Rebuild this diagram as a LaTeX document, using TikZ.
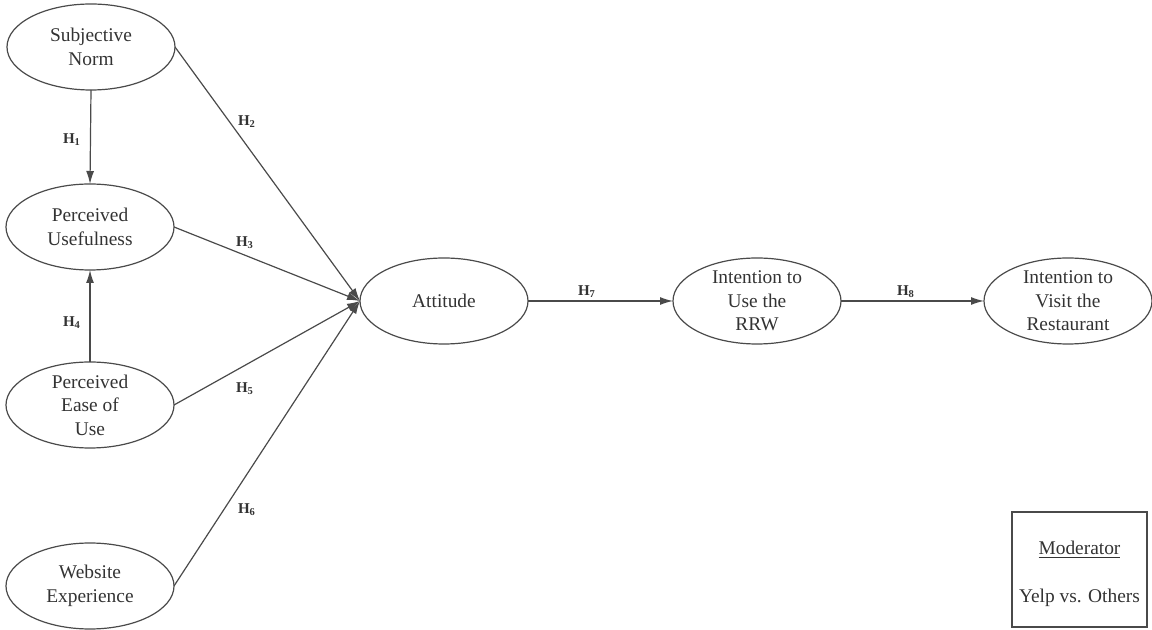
\documentclass[tikz,border=0pt]{standalone}
\usepackage{fontspec}
\setmainfont{Liberation Serif}
\newfontfamily\timesface{Liberation Serif}
\usetikzlibrary{shapes.geometric,arrows.meta}
\definecolor{ink}{HTML}{333333}
\definecolor{edge}{HTML}{4A4A4A}
\begin{document}
\begin{tikzpicture}[x=0.5pt,y=-0.5pt,
  construct/.style={ellipse,draw=edge,line width=0.6pt,minimum width=84pt,minimum height=43pt,inner sep=0pt,outer sep=0pt},
  caption/.style={align=center,font=\timesface\fontsize{9.7}{11.8}\selectfont,text=ink,inner sep=0pt},
  link/.style={draw=edge,line width=0.6pt,-{Latex[length=6.5pt,width=4pt]}},
  hyp/.style={font=\timesface\fontsize{7.5}{9}\selectfont\bfseries,text=ink,inner sep=0pt}]
\useasboundingbox (0,0) rectangle (1152,630);

% constructs
\node[construct] (sn)  at (91,47)   {};
\node[caption]   (snt) at (sn)      {Subjective\\Norm};
\node[construct] (pu)  at (90,227)  {};
\node[caption]   (put) at (pu)      {Perceived\\Usefulness};
\node[construct] (peu) at (90,405)  {};
\node[caption]   (peut) at (peu)    {Perceived\\Ease of\\Use};
\node[construct] (we)  at (90,586)  {};
\node[caption]   (wet) at (we)      {Website\\Experience};
\node[construct] (att) at (444,301) {};
\node[caption]   (attt) at (att)    {Attitude};
\node[construct] (iu)  at (757,301) {};
\node[caption]   (iut) at (iu)      {Intention to\\Use the\\RRW};
\node[construct] (iv)  at (1068,301) {};
\node[caption]   (ivt) at (iv)      {Intention to\\Visit the\\Restaurant};

% moderator box
\node[draw=edge,line width=0.7pt,minimum width=67.5pt,minimum height=57.5pt,inner sep=0pt] (mod) at (1079.5,569.5) {};
\node[caption] (modh) at (1079.5,550) {\underline{Moderator}};
\node[caption] (modv) at (1079.5,598) {Yelp vs. Others};

% hypothesised paths
\draw[link] (sn.south) -- (pu.north);
\draw[link] (peu.north) -- (pu.south);
\draw[link] (sn.east)  -- (att.west);
\draw[link] (pu.east)  -- (att.west);
\draw[link] (peu.east) -- (att.west);
\draw[link] (we.east)  -- (att.west);
\draw[link] (att.east) -- (iu.west);
\draw[link] (iu.east)  -- (iv.west);

% path labels
\node[hyp] (h1) at (72,140)  {H\textsubscript{1}};
\node[hyp] (h2) at (247,122) {H\textsubscript{2}};
\node[hyp] (h3) at (245,243) {H\textsubscript{3}};
\node[hyp] (h4) at (72,323)  {H\textsubscript{4}};
\node[hyp] (h5) at (245,389) {H\textsubscript{5}};
\node[hyp] (h6) at (247,510) {H\textsubscript{6}};
\node[hyp] (h7) at (587,292) {H\textsubscript{7}};
\node[hyp] (h8) at (906,292) {H\textsubscript{8}};
\end{tikzpicture}
\end{document}
